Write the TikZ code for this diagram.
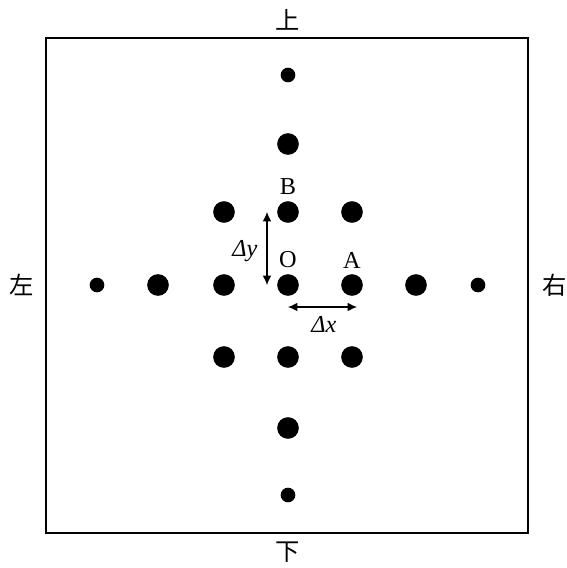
\documentclass[tikz,border=0pt]{standalone}
\usepackage{fontspec}
\setmainfont{Liberation Serif}
\newfontfamily\cjk{Noto Sans CJK JP}
\usetikzlibrary{arrows.meta}

\begin{document}
\begin{tikzpicture}[
  x=0.03cm, y=-0.03cm,
  bigdot/.style={
    circle, fill=black, inner sep=0pt, minimum size=6.5mm
  },
  smalldot/.style={
    circle, fill=black, inner sep=0pt, minimum size=4.4mm
  },
  frame/.style={
    draw, line width=1.2pt
  },
  side/.style={
    font=\cjk\huge
  },
  tag/.style={
    font=\huge
  },
  gaplabel/.style={
    font=\huge\itshape
  },
  span/.style={
    {Latex[length=2.8mm, width=2.6mm]}-{Latex[length=2.8mm, width=2.6mm]}, line width=1pt
  }
]

% geometry
\def\cx{288}          % center column
\def\cy{285}          % center row

\useasboundingbox (0,0) rectangle (566,568);

% outer frame
\draw[frame] (46,38) rectangle (528,533);

% side labels
\node[side] (up)    at (\cx,20)  {上};
\node[side] (down)  at (\cx,552) {下};
\node[side] (left)  at (22,\cy)  {左};
\node[side] (right) at (555,\cy) {右};

% vertical line of dots
\node[smalldot] (t2) at (\cx,75)  {};
\node[bigdot]   (t1) at (\cx,144) {};
\node[bigdot]   (b)  at (\cx,212) {};
\node[bigdot]   (o)  at (\cx,\cy) {};
\node[bigdot]   (d1) at (\cx,357) {};
\node[bigdot]   (d2) at (\cx,428) {};
\node[smalldot] (d3) at (\cx,495) {};

% horizontal line of dots
\node[smalldot] (l3) at (97,\cy)  {};
\node[bigdot]   (l2) at (158,\cy) {};
\node[bigdot]   (l1) at (224,\cy) {};
\node[bigdot]   (a)  at (352,\cy) {};
\node[bigdot]   (r2) at (416,\cy) {};
\node[smalldot] (r3) at (478,\cy) {};

% corner dots
\node[bigdot] (bl) at (224,212) {};
\node[bigdot] (br) at (352,212) {};
\node[bigdot] (dl) at (224,357) {};
\node[bigdot] (dr) at (352,357) {};

% point labels
\node[tag] (lb) at (\cx,187) {B};
\node[tag] (lo) at (\cx,260) {O};
\node[tag] (la) at (352,260) {A};

% spacings
\coordinate (dytop) at (267,212);
\coordinate (dybot) at (267,\cy);
\coordinate (dxl)   at (\cx,307);
\coordinate (dxr)   at (357,307);
\draw[span] (dytop) -- (dybot);
\draw[span] (dxl) -- (dxr);
\node[gaplabel] (dy) at (245,251) {Δy};
\node[gaplabel] (dx) at (324,324) {Δx};

\end{tikzpicture}
\end{document}
